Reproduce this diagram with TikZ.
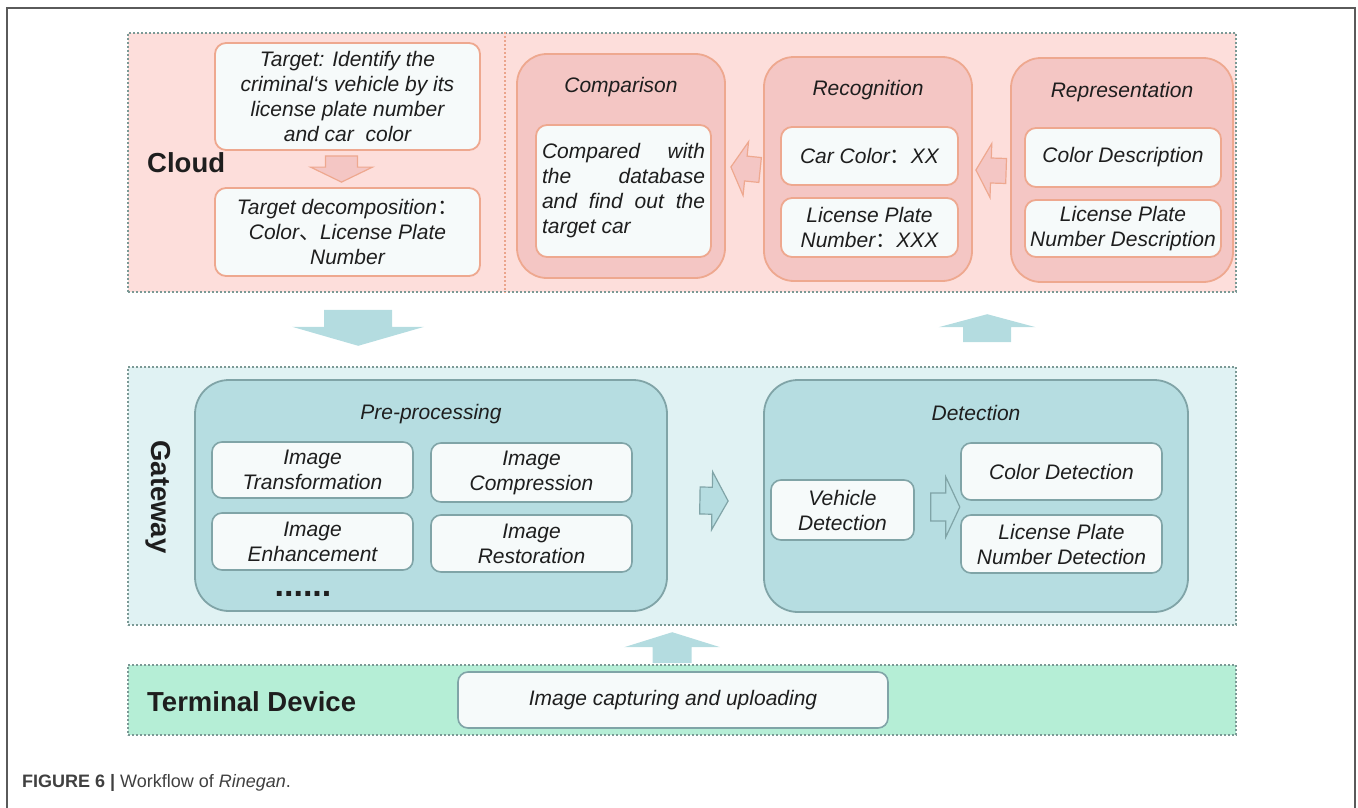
\documentclass[tikz,border=0pt]{standalone}
\usepackage{fontspec}
\setmainfont{Liberation Sans}
\newfontfamily\cjk{Noto Sans CJK SC}
\usetikzlibrary{calc}

\definecolor{ink}{HTML}{1E1E1E}
\definecolor{framegray}{HTML}{5A5A5A}
\definecolor{dotline}{HTML}{7B9995}
\definecolor{cloudbg}{HTML}{FDDEDB}
\definecolor{pinkfill}{HTML}{F4C6C4}
\definecolor{pinkedge}{HTML}{EEA88F}
\definecolor{divider}{HTML}{EBA48C}
\definecolor{boxfill}{HTML}{F6FAFA}
\definecolor{gatebg}{HTML}{E0F2F3}
\definecolor{tealfill}{HTML}{B6DDE1}
\definecolor{tealedge}{HTML}{80A4A7}
\definecolor{arrowteal}{HTML}{B4DCE0}
\definecolor{termbg}{HTML}{B5EED6}

% full-width punctuation taken from the CJK face
\newcommand\fcolon{{\cjk\upshape ：}}
\newcommand\fcomma{{\cjk\upshape 、}}

% block arrow: style, tail, tip, shaft half-width, head half-width, head length
\newcommand\blockarrow[6]{%
  \coordinate (ba-a) at (#2);
  \coordinate (ba-b) at (#3);
  \coordinate (ba-h) at ($(ba-b)!#6pt!(ba-a)$);
  \path[#1] ($(ba-a)!#4pt!90:(ba-b)$) -- ($(ba-h)!#4pt!-90:(ba-a)$)
    -- ($(ba-h)!#5pt!-90:(ba-a)$) -- (ba-b) -- ($(ba-h)!#5pt!90:(ba-a)$)
    -- ($(ba-h)!#4pt!90:(ba-a)$) -- ($(ba-a)!#4pt!-90:(ba-b)$) -- cycle;}

\begin{document}
\begin{tikzpicture}[x=1pt,y=-1pt,
  boxspan/.style n args={4}{at={({(#1+#3)/2},{(#2+#4)/2})},
    minimum width={(#3-#1)*1pt}, minimum height={(#4-#2)*1pt}},
  txt/.style={font=\fontsize{21}{25}\selectfont\itshape, text=ink, align=center},
  region/.style={draw=dotline, line width=1.6pt, dash pattern=on 1.6pt off 2.4pt, inner sep=0pt},
  pinkbig/.style={draw=pinkedge, fill=pinkfill, line width=1.8pt, rounded corners=30pt, inner sep=0pt},
  pinkwhite/.style={txt, draw=pinkedge, fill=boxfill, line width=1.8pt, rounded corners=11pt, inner sep=0pt},
  tealbig/.style={draw=tealedge, fill=tealfill, line width=1.8pt, rounded corners=34pt, inner sep=0pt},
  tealwhite/.style={txt, draw=tealedge, fill=boxfill, line width=1.6pt, rounded corners=10pt, inner sep=0pt},
  lab/.style={font=\fontsize{27.5}{30}\selectfont\bfseries, text=ink, anchor=west, inner sep=0pt},
  pinkarrow/.style={fill=pinkfill, draw=pinkedge, line width=1.2pt},
  tealarrow/.style={fill=tealfill, draw=tealedge, line width=1.2pt},
  bigarrow/.style={fill=arrowteal}]
\useasboundingbox (0,0) rectangle (1358,808);

% page frame
\draw[framegray, line width=2pt] (7,808) -- (7,8) -- (1355,8) -- (1355,808);

% ---------- layers ----------
\node[region, fill=cloudbg, boxspan={128}{33}{1236}{292}] (cloudR) {};
\node[region, fill=gatebg, boxspan={128}{367}{1236}{625}] (gateR) {};
\node[region, fill=termbg, boxspan={128}{665}{1236}{735}] (termR) {};
\draw[divider, line width=1.6pt, dash pattern=on 1.6pt off 2.4pt]
  ($(cloudR.north west)+(378,0)$) coordinate (divT) -- (divT |- cloudR.south);

\node[lab] (cloudL) at (147,163) {Cloud};
\node[lab, anchor=center, rotate=-90] (gateL) at (158,497) {Gateway};
\node[lab] (termL) at (147,702) {Terminal Device};

% ---------- cloud ----------
\node[pinkwhite, boxspan={215}{43}{480}{150}] (tgt)
  {Target: Identify the\\criminal‘s vehicle by its\\license plate number\\and car\ \ color};
\node[pinkwhite, boxspan={215}{188}{480}{276}] (dec)
  {Target decomposition\fcolon\\Color\fcomma License Plate\\Number};
\blockarrow{pinkarrow}{$(tgt.south)+(-6,5)$}{$(dec.north)+(-6,-5)$}{16}{31}{15}

\node[pinkbig, boxspan={517}{54}{725}{278}] (cmp) {};
\node[txt] (cmpT) at (621,87) {Comparison};
\node[pinkwhite, boxspan={536}{125}{711}{257}, align=left] (cmpI)
  {\makebox[163pt][l]{Compared\hfill with}\\\makebox[163pt][l]{the\hfill database}\\
   \makebox[163pt][l]{and\hfill find\hfill out\hfill the}\\target car};

\node[pinkbig, boxspan={764}{57}{972}{281}] (rec) {};
\node[txt] (recT) at (868,90) {Recognition};
\node[pinkwhite, boxspan={781}{127}{958}{185}] (recA) {Car Color\fcolon XX};
\node[pinkwhite, boxspan={781}{198}{958}{257}] (recB) {License Plate\\Number\fcolon XXX};

\node[pinkbig, boxspan={1011}{58}{1233}{282}] (rep) {};
\node[txt] (repT) at (1122,92) {Representation};
\node[pinkwhite, boxspan={1025}{128}{1221}{187}] (repA) {Color Description};
\node[pinkwhite, boxspan={1025}{200}{1221}{257}] (repB) {License Plate\\Number Description};

\blockarrow{pinkarrow}{$(rec.west)+(-3,1)$}{$(cmp.east)+(5,1)$}{12.5}{27}{15}
\blockarrow{pinkarrow}{$(rep.west)+(-4,1)$}{$(rec.east)+(3,1)$}{12.5}{27}{15}

% ---------- gateway ----------
\node[tealbig, boxspan={195}{380}{667}{611}] (pre) {};
\node[txt] (preT) at (431,414) {Pre-processing};
\node[tealwhite, boxspan={212}{442}{413}{498}] (preA) {Image\\Transformation};
\node[tealwhite, boxspan={431}{443}{632}{502}] (preB) {Image\\Compression};
\node[tealwhite, boxspan={212}{513}{413}{570}] (preC) {Image\\Enhancement};
\node[tealwhite, boxspan={431}{515}{632}{572}] (preD) {Image\\Restoration};
\node[font=\fontsize{34}{36}\selectfont\bfseries, text=ink, inner sep=0pt, anchor=base] (preE) at (303,596) {......};

\node[tealbig, boxspan={764}{380}{1188}{612}] (det) {};
\node[txt] (detT) at (976,413) {Detection};
\node[tealwhite, boxspan={771}{480}{914}{540}] (detV) {Vehicle\\Detection};
\node[tealwhite, boxspan={961}{443}{1162}{500}] (detC) {Color Detection};
\node[tealwhite, boxspan={961}{515}{1162}{573}] (detL) {License Plate\\Number Detection};

\blockarrow{tealarrow}{$(pre.east)+(32,5)$}{$(det.west)+(-35,5)$}{13.5}{29}{16}
\blockarrow{tealarrow}{$(detV.east)+(16,-3)$}{$(detV.east)+(45,-3)$}{14}{30}{14}

% ---------- terminal ----------
\node[tealwhite, boxspan={458}{672}{888}{728}] (cap) {Image capturing and uploading};

% ---------- flow between layers ----------
\blockarrow{bigarrow}{$(cloudR.south west)+(231,17)$}{$(cloudR.south west)+(231,53)$}{34}{66}{19}
\blockarrow{bigarrow}{$(gateR.north west)+(860,-24)$}{$(gateR.north west)+(860,-52)$}{24}{48.5}{13}
\blockarrow{bigarrow}{$(termR.north west)+(545,-1)$}{$(termR.north west)+(545,-32)$}{19.5}{48}{15}

% ---------- caption ----------
\node[font=\fontsize{18}{20}\selectfont, text=ink!85, anchor=base west, inner sep=0pt] (capt)
  at (22,787) {\textbf{FIGURE 6 |} Workflow of \textit{Rinegan}.};
\end{tikzpicture}
\end{document}
